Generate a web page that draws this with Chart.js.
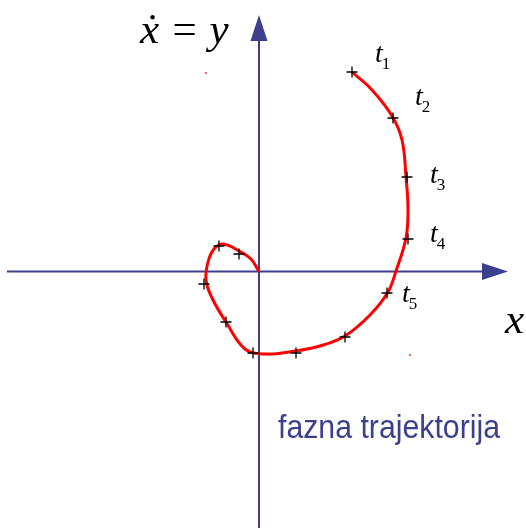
<!DOCTYPE html>
<html>
<head>
<meta charset="utf-8">
<script src="https://cdn.jsdelivr.net/npm/chart.js@4.4.0/dist/chart.umd.min.js"></script>
<style>
html, body { margin: 0; padding: 0; background: #fff; }
canvas { display: block; }
</style>
</head>
<body>
<canvas id="phaseChart" width="526" height="528"></canvas>
<script>
// fazna trajektorija: x vodoravno, y = dx/dt okomito
var pathX = [9.3, 11.3, 13.3, 14.3, 14.7, 14.9, 14.7, 13.7, 12.9, 11.1, 8.6, 6.1, 3.6, 0.6, -1.4, -3.3, -4.7, -5.3, -5.1, -4.5, -3.6, -2.0, -0.8, 0];
var pathY = [19.95, 18.15, 15.55, 13.15, 9.45, 6.15, 3.35, 0.05, -2.05, -4.35, -6.45, -7.45, -7.95, -8.25, -7.75, -5.05, -2.65, -0.85, 0.95, 2.25, 2.75, 2.05, 1.25, 0];

// trenuci t1..t5 pa ostale oznake duž putanje
var markX = [9.3, 13.4, 14.8, 14.9, 12.8, 8.6, 3.7, -0.6, -3.3, -5.5, -4.0, -2.0];
var markY = [19.95, 15.35, 9.45, 3.25, -2.15, -6.55, -8.15, -8.15, -5.05, -1.25, 2.55, 1.75];
var timeLabels = ['1', '2', '3', '4', '5'];

var dotX = [-5.3, 15.1];
var dotY = [19.85, -8.35];

// krajevi osi
var axisX = [-25.2, 24.9];
var axisY = [-25.65, 25.65];

function toPoints(xs, ys) {
    return xs.map(function(x, i) { return { x: x, y: ys[i] }; });
}

var navy = '#3c3f8e';

var phasePlot = {
    id: 'phasePlot',
    beforeDatasetsDraw: function(chart) {
        var ctx = chart.ctx;
        var sx = chart.scales.x, sy = chart.scales.y;
        var x0 = sx.getPixelForValue(0), y0 = sy.getPixelForValue(0);
        var xL = sx.getPixelForValue(axisX[0]), xR = sx.getPixelForValue(axisX[1]);
        var yB = sy.getPixelForValue(axisY[0]), yT = sy.getPixelForValue(axisY[1]);
        var len = 26, half = 8.5;
        ctx.save();
        ctx.strokeStyle = navy;
        ctx.fillStyle = navy;
        ctx.lineWidth = 2;
        ctx.beginPath();
        ctx.moveTo(xL, y0); ctx.lineTo(xR - len, y0);
        ctx.moveTo(x0, yB); ctx.lineTo(x0, yT + len);
        ctx.stroke();
        ctx.beginPath();
        ctx.moveTo(xR, y0); ctx.lineTo(xR - len, y0 - half); ctx.lineTo(xR - len, y0 + half);
        ctx.closePath();
        ctx.fill();
        ctx.beginPath();
        ctx.moveTo(x0, yT); ctx.lineTo(x0 - half, yT + len); ctx.lineTo(x0 + half, yT + len);
        ctx.closePath();
        ctx.fill();
        ctx.restore();
    },
    afterDatasetsDraw: function(chart) {
        var ctx = chart.ctx;
        var sx = chart.scales.x, sy = chart.scales.y;
        var offs = [[23, -10], [22, -13], [23, 6], [22, 3], [15, 9]];
        ctx.save();
        ctx.fillStyle = '#000';
        ctx.textBaseline = 'alphabetic';
        timeLabels.forEach(function(lbl, i) {
            var px = sx.getPixelForValue(markX[i]) + offs[i][0];
            var py = sy.getPixelForValue(markY[i]) + offs[i][1];
            ctx.font = 'italic 28px "Liberation Serif"';
            ctx.fillText('t', px, py);
            var w = ctx.measureText('t').width;
            ctx.font = '17px "Liberation Serif"';
            ctx.fillText(lbl, px + w - 1, py + 7);
        });

        ctx.font = 'italic 43px "Liberation Serif"';
        ctx.fillText('\u1E8B = y', 140, 43);
        ctx.fillText('x', 505, 333);

        // natpis
        var txt = 'fazna trajektorija';
        ctx.font = '33px "Liberation Sans"';
        ctx.fillStyle = navy;
        var tw = ctx.measureText(txt).width;
        ctx.translate(278, 438);
        ctx.scale(222 / tw, 1);
        ctx.fillText(txt, 0, 0);
        ctx.restore();
    }
};

new Chart(document.getElementById('phaseChart'), {
    type: 'scatter',
    data: {
        datasets: [
            {
                label: 'oznake',
                data: toPoints(markX, markY),
                pointStyle: 'cross',
                pointRadius: 5.5,
                borderColor: '#000',
                borderWidth: 1.3,
                order: 1
            },
            {
                label: 'putanja',
                data: toPoints(pathX, pathY),
                showLine: true,
                borderColor: '#ff0000',
                borderWidth: 3,
                tension: 0.4,
                pointRadius: 0,
                order: 2
            },
            {
                label: 'točke',
                data: toPoints(dotX, dotY),
                pointStyle: 'rect',
                pointRadius: 1.5,
                backgroundColor: 'rgba(255,40,40,0.7)',
                borderWidth: 0,
                order: 3
            }
        ]
    },
    options: {
        responsive: false,
        animation: false,
        devicePixelRatio: 1,
        layout: { padding: 0, autoPadding: false },
        plugins: {
            legend: { display: false },
            tooltip: { enabled: false }
        },
        scales: {
            x: { display: false, min: -25.9, max: 26.7 },
            y: { display: false, min: -25.65, max: 27.15 }
        }
    },
    plugins: [phasePlot]
});
</script>
</body>
</html>
